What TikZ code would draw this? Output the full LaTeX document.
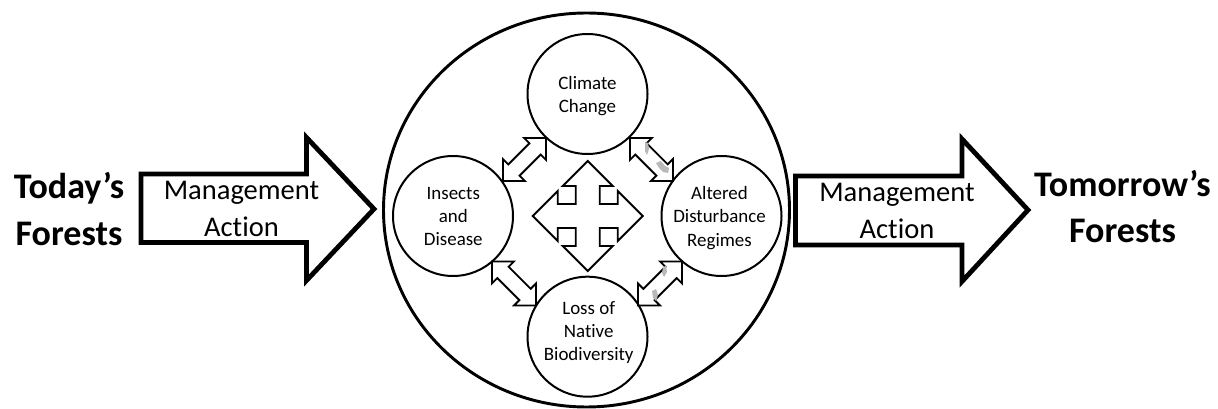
\documentclass[tikz,border=0pt]{standalone}
\usepackage{fontspec}
\setmainfont{Carlito}[Ligatures=NoCommon]
\begin{document}
\begin{tikzpicture}[x=0.75pt,y=-0.75pt,
  bigarrow/.style={draw=black, line width=3.6pt, fill=white, line join=miter},
  ring/.style={draw=black, line width=2.2pt},
  circ/.style={circle, draw=black, line width=1.5pt, minimum size=90pt, inner sep=0pt},
  thinarrow/.style={draw=black, line width=1.4pt, fill=white, line join=miter},
  blob/.style={fill=gray!55},
  ctext/.style={align=center, font=\fontsize{14.2}{17.5}\selectfont, inner sep=0pt},
  atext/.style={align=center, font=\fontsize{21.4}{27.75}\selectfont, inner sep=0pt},
  ttext/.style={align=center, font=\bfseries\fontsize{27}{35}\selectfont, inner sep=0pt}]
\useasboundingbox (0,0) rectangle (1218,409);
\fill[white] (0,0) rectangle (1218,409);

% big side arrows
\draw[bigarrow] (141,174) -- (306.5,174) -- (306.5,137.5) -- (374,209) -- (306.5,280.5) -- (306.5,242.5) -- (141,242.5) -- cycle;
\draw[bigarrow] (795.5,176) -- (962,176) -- (962,139) -- (1028,210) -- (962,281.5) -- (962,245) -- (795.5,245) -- cycle;

% outer ring
\draw[ring] (586.5,210) ellipse [x radius=152.25pt, y radius=147.75pt];

% double arrows between circles
\newcommand{\dblarrowshape}[4]{%
  \begin{scope}[shift={(#1,#2)},rotate=#3]
    \draw[thinarrow] (0,0) -- (15.5,15.5) -- (15.5,8) -- (#4-15.5,8) -- (#4-15.5,15.5) -- (#4,0)
      -- (#4-15.5,-15.5) -- (#4-15.5,-8) -- (15.5,-8) -- (15.5,-15.5) -- cycle;
  \end{scope}}
\dblarrowshape{503}{181}{45}{60.8}
\dblarrowshape{630}{138}{-45}{60.8}
\dblarrowshape{492}{261.5}{-45}{62.2}
\dblarrowshape{682}{261.5}{-135}{62.2}

% grey specks
\fill[blob] (645,142) -- (648,143) -- (649,149) -- (647,155) -- (645,151) -- cycle;
\fill[blob] (656,163) -- (661,161) -- (665,166) -- (669,168) -- (668,173) -- (663,172) -- (659,168) -- cycle;
\fill[blob] (663,267) -- (666,266) -- (667,272) -- (664,277) -- (662,273) -- cycle;
\fill[blob] (652,291) -- (656,289) -- (658,295) -- (656,301) -- (653,298) -- cycle;

% central quad arrow
\begin{scope}[shift={(587.7,216)}]
\draw[thinarrow] (0,-55) -- (25,-30) -- (12,-30) -- (12,-12) -- (30,-12) -- (30,-25) -- (55,0)
  -- (30,25) -- (30,12) -- (12,12) -- (12,30) -- (25,30) -- (0,55)
  -- (-25,30) -- (-12,30) -- (-12,12) -- (-30,12) -- (-30,25) -- (-55,0)
  -- (-30,-25) -- (-30,-12) -- (-12,-12) -- (-12,-30) -- (-25,-30) -- cycle;
\end{scope}

% small circles
\node[circ] (cc) at (587.5,94) {};
\node[circ] (id) at (453,216) {};
\node[circ] (ad) at (721.5,216) {};
\node[circ] (lb) at (587.5,336.7) {};

\node[ctext] (cct) at (587.5,96.3) {Climate\\Change};
\node[ctext] (idt) at (453.3,216.4) {Insects\\and\\Disease};
\node[ctext] (adt) at (719.5,217.8) {Altered\\Disturbance\\Regimes};
\node[ctext] (lbt) at (588.7,332.7) {Loss of\\Native\\Biodiversity};

% arrow texts
\node[atext] (ma1) at (241.5,209.2) {Management\\Action};
\node[atext] (ma2) at (897,210.6) {Management\\Action};

% titles
\node[ttext] (today) at (69,209) {Today’s\\Forests};
\node[ttext] (tomorrow) at (1122.5,206.4) {Tomorrow’s\\Forests};
\end{tikzpicture}
\end{document}
